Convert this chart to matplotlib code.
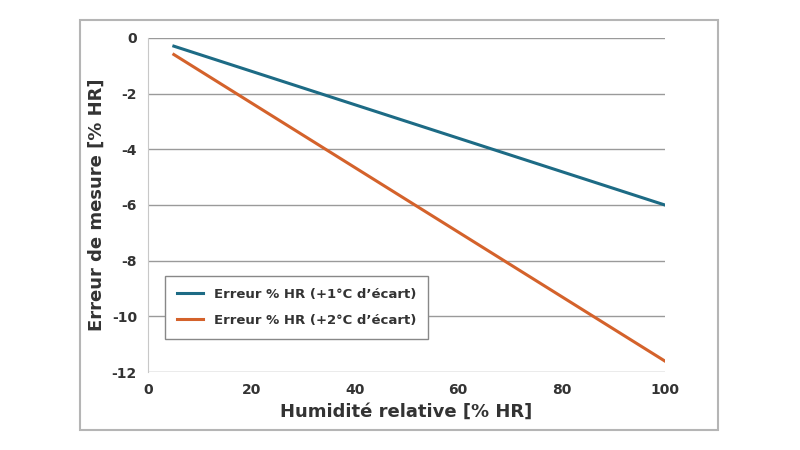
import matplotlib
matplotlib.use("Agg")
import matplotlib.pyplot as plt
from matplotlib.patches import Rectangle

plt.rcParams["axes.unicode_minus"] = False

humidity = [5, 100]
err_1c = [-0.3, -6.0]
err_2c = [-0.6, -11.6]

fig = plt.figure(figsize=(8, 4.5), dpi=100)
fig.patches.append(Rectangle((80 / 800, 20 / 450), 638 / 800, 410 / 450,
                             transform=fig.transFigure, fill=False,
                             edgecolor="#b5b5b5", linewidth=1.5))
ax = fig.add_axes([0.185, 0.173, 0.646, 0.743])
ax.plot(humidity, err_1c, color="#1d6b85", linewidth=2.2,
        label="Erreur % HR (+1°C d\u2019écart)")
ax.plot(humidity, err_2c, color="#d4622b", linewidth=2.2,
        label="Erreur % HR (+2°C d\u2019écart)")
ax.set_xlim(0, 100)
ax.set_ylim(-12, 0)
ax.set_xticks(range(0, 101, 20))
ax.set_yticks(range(-12, 1, 2))
ax.grid(axis="y", color="#9a9a9a", linewidth=1)
for s in ("top", "right", "bottom"):
    ax.spines[s].set_visible(False)
ax.spines["left"].set_color("#c8c8c8")
ax.tick_params(length=0, labelsize=10, pad=8)
for lab in ax.get_xticklabels() + ax.get_yticklabels():
    lab.set_fontweight("bold")
    lab.set_color("#333333")
ax.set_xlabel("Humidité relative [% HR]", fontsize=13, fontweight="bold", color="#333333")
ax.set_ylabel("Erreur de mesure [% HR]", fontsize=13, fontweight="bold", color="#333333",
              labelpad=4)
leg = ax.legend(loc="lower left", bbox_to_anchor=(0.02, 0.08),
                prop={"weight": "bold", "size": 9.5}, fancybox=False,
                edgecolor="#888888", framealpha=1, borderpad=0.9, labelspacing=1.0)
for t in leg.get_texts():
    t.set_color("#333333")
fig.savefig("out.png", dpi=100)
